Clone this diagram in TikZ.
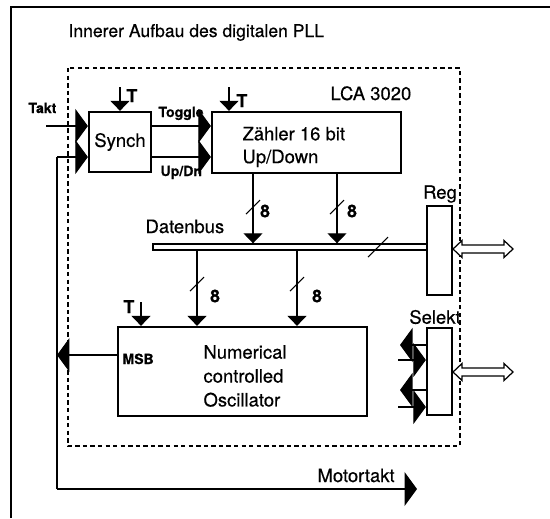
\documentclass[tikz,border=0pt]{standalone}
\usepackage{fontspec}
\setmainfont{TeX Gyre Heros}[FakeBold=0.4]
\usetikzlibrary{arrows.meta}

\tikzset{
  box/.style={draw, line width=1.3pt, inner sep=0pt},
  bigtip/.style={-{Triangle[length=0.25cm,width=0.68cm]}},
  tip/.style={-{Triangle[length=0.2cm,width=0.38cm]}},
  txt/.style={font=\fontsize{10.5}{13}\selectfont, inner sep=0pt},
  bold/.style={font=\bfseries\fontsize{10}{12}\selectfont, inner sep=0pt},
  small/.style={font=\bfseries\fontsize{8}{9}\selectfont, inner sep=0pt},
  dualarrow/.pic={
    \draw[line width=0.7pt, fill=white] (-30,0) -- (-21,-8.5) -- (-21,-4) -- (21,-4)
      -- (21,-8.5) -- (30,0) -- (21,8.5) -- (21,4) -- (-21,4) -- (-21,8.5) -- cycle;
  },
}

\begin{document}
\begin{tikzpicture}[x=0.02cm, y=-0.02cm, line width=0.6pt]
  \useasboundingbox (0,0) rectangle (550,518);

  % Coordinates
  \coordinate (FA) at (11,518);
  \coordinate (FB) at (11,7);
  \coordinate (FC) at (550,7);
  \coordinate (LA) at (68,68);
  \coordinate (LB) at (460,446);
  \coordinate (takt) at (46,126);
  \coordinate (tog) at (151,126);
  \coordinate (updn) at (151,157);
  \coordinate (fbtop) at (57,157);
  \coordinate (fbbot) at (57,489);
  \coordinate (motor) at (417,489);
  \coordinate (msb) at (57,355);
  \coordinate (ts) at (120,87);
  \coordinate (tz) at (229,87);
  \coordinate (tn) at (141,302);
  \coordinate (za) at (253,173);
  \coordinate (zb) at (337,173);
  \coordinate (na) at (197,250);
  \coordinate (nb) at (297,250);
  \coordinate (so1) at (400,345);
  \coordinate (si1) at (398,360);
  \coordinate (so2) at (400,390);
  \coordinate (si2) at (398,407);

  % Frame
  \draw (FA) -- (FB) -- (FC);
  \draw[dash pattern=on 2.5pt off 1.8pt, line width=0.7pt] (LA) rectangle (LB);

  % Blocks
  \node[box, txt, minimum width=1.24cm, minimum height=1.2cm] (synch) at (120,142) {Synch};
  \node[box, minimum width=3.78cm, minimum height=1.22cm] (zahler) at (306.5,142.5) {};
  \node[box, minimum width=4.98cm, minimum height=1.78cm] (nco) at (242.5,371.5) {};
  \node[box, minimum width=0.5cm, minimum height=1.78cm] (reg) at (439.5,250.5) {};
  \node[box, minimum width=0.5cm, minimum height=1.74cm] (selekt) at (439.5,371.5) {};
  \node[draw, line width=0.8pt, inner sep=0pt, minimum width=5.48cm, minimum height=0.12cm] (bus) at (290,247) {};
  \pic (regio) at (483,249) {dualarrow};
  \pic (selio) at (483,372) {dualarrow};

  % Texts
  \node[txt, anchor=base west, font=\fontsize{10}{11}\selectfont] (title) at (68,37) {Innerer Aufbau des digitalen PLL};
  \node[txt, anchor=base west] (lca) at (330,100) {LCA 3020};
  \node[txt, anchor=west, align=left] (ztext) at (242,147) {Zähler 16 bit\\Up/Down};
  \node[txt, anchor=west, align=left, font=\fontsize{10.5}{13.6}\selectfont] (ntext) at (203,376) {Numerical\\controlled\\Oscillator};
  \node[txt, anchor=base west] (dbus) at (145,233) {Datenbus};
  \node[txt] (reglbl) at (440,194) {Reg};
  \node[txt] (sellbl) at (435,317) {Selekt};
  \node[txt, anchor=base west] (mot) at (317,482) {Motortakt};
  \node[small, anchor=base west] (taktlbl) at (28,113) {Takt};
  \node[small, anchor=base west] (toglbl) at (158,117) {Toggle};
  \node[small, anchor=base west] (updnlbl) at (160,176) {Up/Dn};
  \node[small, anchor=base west] (msblbl) at (122,364) {MSB};
  \node[bold, anchor=base west] (tsl) at (126,102) {T};
  \node[bold, anchor=base west] (tzl) at (236,107) {T};
  \node[bold, anchor=base west] (tnl) at (123,313) {T};
  \node[bold] (w1) at (265,211) {8};
  \node[bold] (w2) at (352,211) {8};
  \node[bold] (w3) at (215,296) {8};
  \node[bold] (w4) at (317,296) {8};

  % Drawing
  \draw[bigtip] (takt) -- (takt -| synch.west);
  \draw[bigtip] (tog) -- (tog -| zahler.west);
  \draw[bigtip] (updn) -- (updn -| zahler.west);
  \draw (fbbot) -- (fbtop);
  \draw[bigtip] (fbtop) -- (fbtop -| synch.west);
  \draw[bigtip] (fbbot) -- (motor);
  \draw[bigtip] (msb -| nco.west) -- (msb);
  \draw[tip] (ts) -- (ts |- synch.north);
  \draw[tip] (tz) -- (tz |- zahler.north);
  \draw[tip] (tn) -- (tn |- nco.north);
  \draw[tip] (za) -- (za |- bus.north);
  \draw[tip] (zb) -- (zb |- bus.north);
  \draw[tip] (na) -- (na |- nco.north);
  \draw[tip] (nb) -- (nb |- nco.north);
  \draw[bigtip] (so1 -| selekt.west) -- (so1);
  \draw[bigtip] (si1) -- (si1 -| selekt.west);
  \draw[bigtip] (so2 -| selekt.west) -- (so2);
  \draw[bigtip] (si2) -- (si2 -| selekt.west);

  % Bus slashes
  \draw (253,207) ++(-7,7) -- ++(14,-14);
  \draw (337,207) ++(-7,7) -- ++(14,-14);
  \draw (197,284) ++(-7,7) -- ++(14,-14);
  \draw (297,284) ++(-7,7) -- ++(14,-14);
  \draw (378,247) ++(-10,10) -- ++(20,-20);
\end{tikzpicture}
\end{document}
